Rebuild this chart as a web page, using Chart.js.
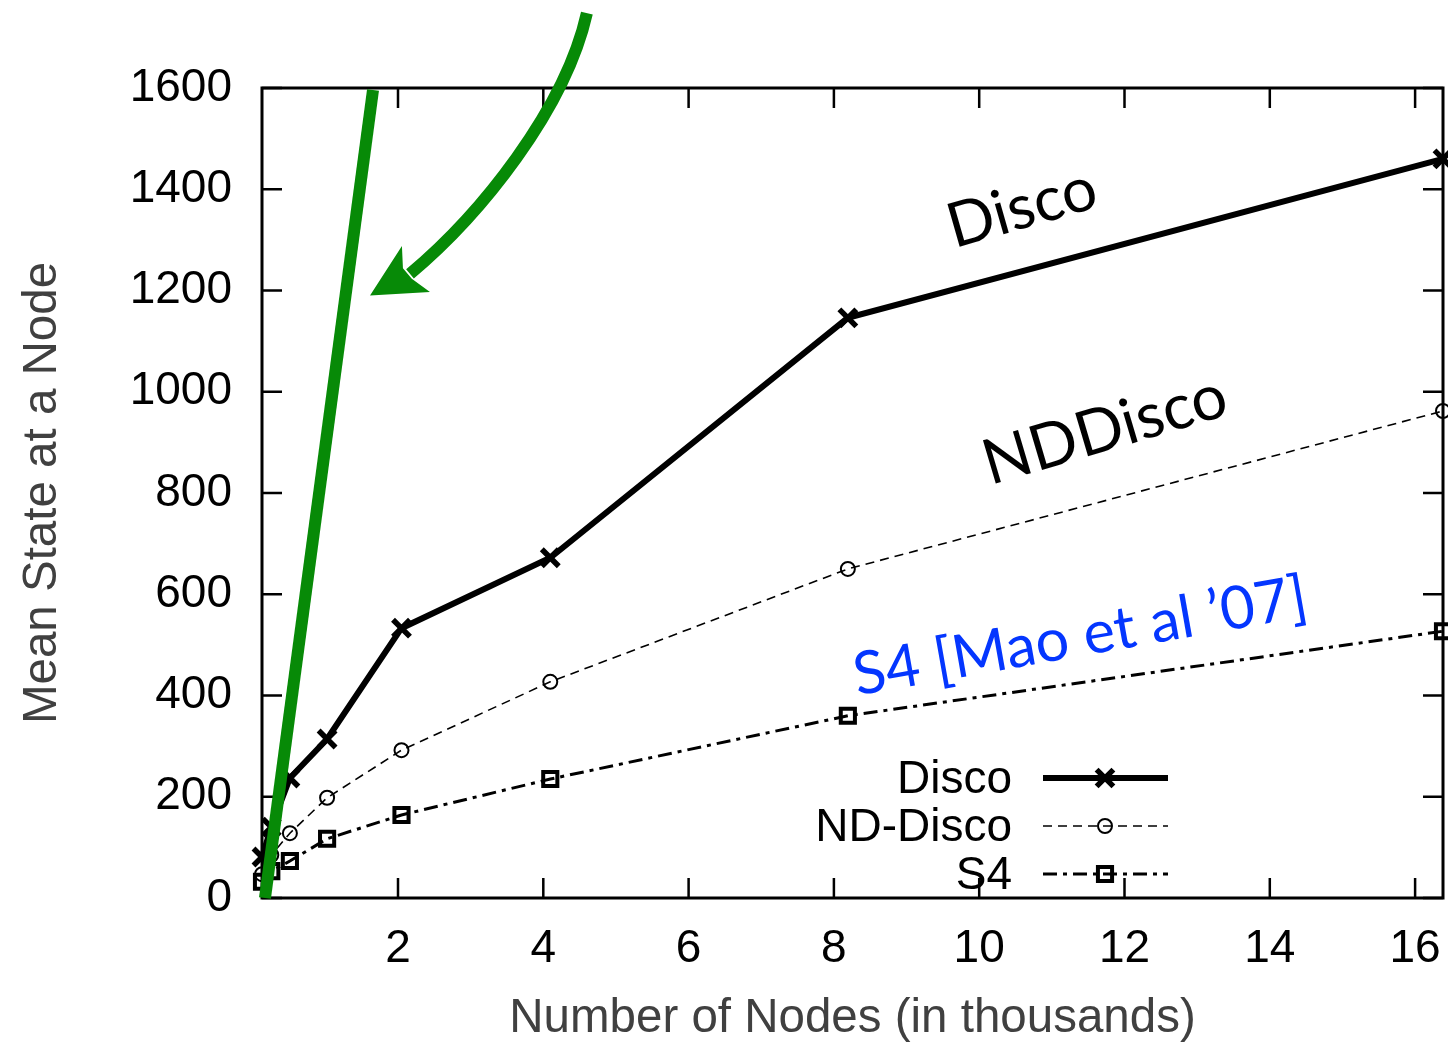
<!DOCTYPE html>
<html>
<head>
<meta charset="utf-8">
<script src="https://cdn.jsdelivr.net/npm/chart.js@4.4.1/dist/chart.umd.min.js"></script>
<style>
  html, body { margin: 0; padding: 0; background: #fff; }
  #wrap { width: 1448px; height: 1043px; }
</style>
</head>
<body>
<div id="wrap"><canvas id="stateChart" width="1448" height="1043"></canvas></div>
<script>
// Number of nodes (thousands) and mean state per node
const nodes = [0.128, 0.256, 0.512, 1.024, 2.048, 4.096, 8.192, 16.384];
const disco = [81, 140, 237, 314, 533, 672, 1146, 1460];
const ndDisco = [47, 85, 128, 198, 292, 427, 650, 962];
const s4 = [32, 53, 73, 117, 164, 235, 360, 527];

const xTicks = [2, 4, 6, 8, 10, 12, 14, 16];
const yTicks = [0, 200, 400, 600, 800, 1000, 1200, 1400, 1600];

// green annotation line (data coords)
const greenX = [0.169, 1.656];
const greenY = [0, 1596];

// curved arrow (data coords): start, ctrl1, ctrl2, end
const arrowCurve = [[4.60, 1748], [4.30, 1557], [3.13, 1349], [2.165, 1233]];
const arrowHead = [[1.615, 1190], [2.054, 1288], [2.068, 1244], [2.19, 1223], [2.44, 1197]];

const tickFont = { family: 'Liberation Sans', size: 46 };
const titleFont = { family: 'Liberation Sans', size: 47.5 };
const GREEN = '#078a07';

function toPoints(xs, ys) {
    return xs.map((x, i) => ({ x: x, y: ys[i] }));
}

const seriesStyles = [
    { label: 'Disco', width: 6, dash: [], point: 'crossRot', radius: 12, pw: 5.5 },
    { label: 'ND-Disco', width: 1.6, dash: [9, 6], point: 'circle', radius: 7, pw: 2 },
    { label: 'S4', width: 3, dash: [14, 6, 4, 6], point: 'rect', radius: 10, pw: 4 }
];

function makeSeries(style, ys) {
    return {
        label: style.label,
        data: toPoints(nodes, ys),
        borderColor: '#000',
        borderWidth: style.width,
        borderDash: style.dash,
        pointStyle: style.point,
        pointRadius: style.radius,
        pointBorderWidth: style.pw,
        pointBorderColor: '#000',
        pointBackgroundColor: 'rgba(0,0,0,0)',
        tension: 0,
        clip: false,
        order: 1
    };
}

// frame, inward ticks, legend and the hand drawn notes
const decorations = {
    id: 'decorations',
    beforeDatasetsDraw(chart) {
        const c = chart.ctx;
        const a = chart.chartArea;
        const xs = chart.scales.x, ys = chart.scales.y;
        c.save();
        c.strokeStyle = '#000';
        c.lineWidth = 2.5;
        c.beginPath();
        xTicks.forEach(v => {
            const p = xs.getPixelForValue(v);
            c.moveTo(p, a.bottom); c.lineTo(p, a.bottom - 20);
            c.moveTo(p, a.top); c.lineTo(p, a.top + 20);
        });
        yTicks.forEach(v => {
            const p = ys.getPixelForValue(v);
            c.moveTo(a.left, p); c.lineTo(a.left + 20, p);
            c.moveTo(a.right, p); c.lineTo(a.right - 20, p);
        });
        c.stroke();
        c.lineWidth = 3;
        c.strokeRect(a.left, a.top, a.right - a.left, a.bottom - a.top);
        c.restore();
    },
    afterDraw(chart) {
        const c = chart.ctx;
        const xs = chart.scales.x, ys = chart.scales.y;
        const px = v => xs.getPixelForValue(v);
        const py = v => ys.getPixelForValue(v);

        // legend (inside, bottom right)
        c.save();
        const rows = [778, 826, 874];
        c.font = '46px "Liberation Sans"';
        c.textAlign = 'right';
        c.textBaseline = 'middle';
        seriesStyles.forEach((s, i) => {
            const y = rows[i];
            c.fillStyle = '#000';
            c.fillText(s.label, 1012, y + 2);
            c.strokeStyle = '#000';
            c.lineWidth = s.width;
            c.setLineDash(s.dash);
            c.beginPath();
            c.moveTo(1043, y); c.lineTo(1168, y);
            c.stroke();
            c.setLineDash([]);
            drawMarker(c, s, 1105, y);
        });
        c.restore();

        // curved green arrow
        c.save();
        c.strokeStyle = GREEN;
        c.fillStyle = GREEN;
        c.lineWidth = 12;
        c.beginPath();
        c.moveTo(px(arrowCurve[0][0]), py(arrowCurve[0][1]));
        c.bezierCurveTo(px(arrowCurve[1][0]), py(arrowCurve[1][1]),
            px(arrowCurve[2][0]), py(arrowCurve[2][1]),
            px(arrowCurve[3][0]), py(arrowCurve[3][1]));
        c.stroke();
        c.beginPath();
        arrowHead.forEach((p, i) => {
            if (i === 0) c.moveTo(px(p[0]), py(p[1]));
            else c.lineTo(px(p[0]), py(p[1]));
        });
        c.closePath();
        c.fill();
        c.restore();

        // rotated series notes
        drawNote(c, 'Disco', px(10.59), py(1363), -16, '#000', 62);
        drawNote(c, 'NDDisco', px(11.73), py(924), -16.5, '#000', 63);
        drawNote(c, 'S4 [Mao et al \u201907]', px(11.39), py(516), -10, '#0436ff', 59.5);
    }
};

function drawMarker(c, s, x, y) {
    c.lineWidth = s.pw;
    c.strokeStyle = '#000';
    c.beginPath();
    if (s.point === 'crossRot') {
        const d = s.radius * 0.7;
        c.moveTo(x - d, y - d); c.lineTo(x + d, y + d);
        c.moveTo(x - d, y + d); c.lineTo(x + d, y - d);
    } else if (s.point === 'circle') {
        c.arc(x, y, s.radius, 0, Math.PI * 2);
    } else {
        const h = s.radius * Math.SQRT1_2;
        c.rect(x - h, y - h, h * 2, h * 2);
    }
    c.stroke();
}

function drawNote(c, text, x, y, deg, color, size) {
    c.save();
    c.translate(x, y);
    c.rotate(deg * Math.PI / 180);
    c.font = size + 'px Lato';
    c.fillStyle = color;
    c.textAlign = 'center';
    c.textBaseline = 'middle';
    c.fillText(text, 0, 0);
    c.restore();
}

const ctx = document.getElementById('stateChart').getContext('2d');

const stateChart = new Chart(ctx, {
    type: 'line',
    data: {
        datasets: [
            {
                label: 'note',
                data: toPoints(greenX, greenY),
                borderColor: GREEN,
                borderWidth: 12,
                pointRadius: 0,
                clip: false,
                order: -1
            },
            makeSeries(seriesStyles[0], disco),
            makeSeries(seriesStyles[1], ndDisco),
            makeSeries(seriesStyles[2], s4)
        ]
    },
    options: {
        responsive: false,
        animation: false,
        layout: { autoPadding: false, padding: { top: 88, right: 5, left: 0, bottom: 0 } },
        plugins: {
            legend: { display: false },
            tooltip: { enabled: false }
        },
        scales: {
            x: {
                type: 'linear',
                min: 0.128,
                max: 16.384,
                afterBuildTicks: scale => { scale.ticks = xTicks.map(v => ({ value: v })); },
                afterFit: scale => {
                    scale.height = 145;
                    scale.paddingLeft = 0;
                    scale.paddingRight = 0;
                },
                grid: { display: false, drawTicks: false },
                border: { display: false },
                ticks: { font: tickFont, color: '#000', padding: 24, autoSkip: false, maxRotation: 0 },
                title: {
                    display: true,
                    text: 'Number of Nodes (in thousands)',
                    color: '#404040',
                    font: titleFont,
                    padding: { top: 0, bottom: -4 }
                }
            },
            y: {
                min: 0,
                max: 1600,
                afterBuildTicks: scale => { scale.ticks = yTicks.map(v => ({ value: v })); },
                afterFit: scale => {
                    scale.width = 262;
                    scale.paddingTop = 0;
                    scale.paddingBottom = 0;
                },
                grid: { display: false, drawTicks: false },
                border: { display: false },
                ticks: { font: tickFont, color: '#000', padding: 30, callback: v => String(v) },
                title: {
                    display: true,
                    text: 'Mean State at a Node',
                    color: '#404040',
                    font: titleFont,
                    padding: { top: 14, bottom: 0 }
                }
            }
        }
    },
    plugins: [decorations]
});
</script>
</body>
</html>
